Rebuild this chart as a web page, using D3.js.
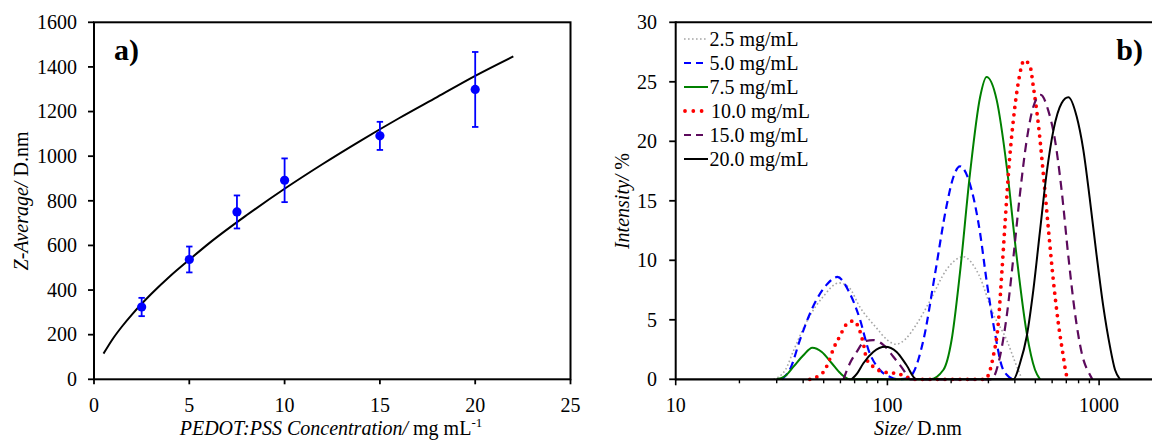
<!DOCTYPE html>
<html><head><meta charset="utf-8">
<script src="https://cdn.jsdelivr.net/npm/d3@7"></script>
<style>
body{margin:0;background:#fff;}
svg text{font-family:"Liberation Serif","Times New Roman",serif;fill:#000;}
</style></head>
<body>
<svg id="chart" width="1152" height="441"></svg>
<script>
// ---------- Panel a) data ----------
const concentrations = [2.5, 5, 7.5, 10, 15, 20];
const zAverage = [324, 537, 750, 892, 1091, 1299];
const zError = [41, 58, 74, 98, 63, 168];
const fitX = [0.5, 1, 1.5, 2, 3, 4, 5, 6, 8, 10, 12, 14, 16, 18, 20, 22];
const fitY = [115, 183, 240, 291, 382, 463, 536, 607, 735, 854, 965, 1070, 1170, 1265, 1360, 1447];
const aXTicks = [0, 5, 10, 15, 20, 25];
const aYTicks = [0, 200, 400, 600, 800, 1000, 1200, 1400, 1600];

// ---------- Panel b) data ----------
const seriesNames = ["2.5 mg/mL", "5.0 mg/mL", "7.5 mg/mL", "10.0 mg/mL", "15.0 mg/mL", "20.0 mg/mL"];
const size25 = [29, 33, 36, 42, 50, 59, 66, 74, 89, 100, 110, 122, 137, 159, 190, 228, 270, 316, 366, 400, 430];
const int25  = [0, 0.8, 2.4, 5.0, 7.0, 8.1, 7.7, 6.1, 4.3, 3.3, 2.95, 3.4, 4.6, 6.6, 9.2, 10.3, 8.8, 5.5, 3.3, 1.5, 0.1];
const size50 = [31.7, 35, 38.6, 46.3, 52, 58, 66.5, 74.3, 81.3, 92, 103, 112, 125, 132, 148, 168, 190, 205, 220, 250, 274, 294, 322, 347, 370, 394];
const int50  = [0, 1.0, 3.3, 6.7, 8.0, 8.6, 7.2, 5.0, 2.5, 0.8, 0.2, 0, 0.1, 0.5, 3.3, 8.9, 14.5, 17.0, 17.9, 15.9, 12.3, 8.3, 3.9, 1.1, 0.3, 0];
const size75 = [30, 33, 36, 40, 44.2, 49, 54.6, 60, 66.5, 159, 184, 201, 220, 245.6, 274, 294, 328, 366, 408, 455, 498, 526];
const int75  = [0, 0.3, 1.06, 2.0, 2.66, 2.3, 1.35, 0.5, 0, 0, 0.8, 3.3, 8.9, 17.3, 23.7, 25.4, 23.5, 17.9, 10.3, 3.9, 0.8, 0];
const size100 = [43, 47.2, 50.7, 52.6, 56, 58.7, 61.5, 64.2, 69, 72.9, 77, 79.8, 85.7, 92.2, 101, 110.6, 123, 132, 290, 300, 316, 334, 347, 359.5, 373, 393.6, 415, 443, 472, 489, 516, 545, 575, 608, 642, 678, 698, 712];
const int100  = [0, 0.28, 0.8, 1.4, 2.7, 3.4, 4.1, 4.65, 4.9, 4.4, 3.0, 1.7, 1.06, 0.7, 0.55, 0.5, 0.2, 0, 0, 0.36, 1.9, 4.7, 8.9, 13.1, 17.3, 21.8, 24.9, 26.8, 26.3, 24.6, 21.5, 17.3, 12.8, 8.3, 4.7, 1.9, 0.5, 0];
const size150 = [62, 66.5, 71.6, 78.4, 85.7, 95.6, 106.7, 119, 128, 310, 340, 366, 394, 423, 455, 489, 530, 575, 619, 665, 716, 770, 828, 906, 930];
const int150  = [0, 1.35, 2.3, 3.2, 3.3, 2.9, 1.9, 0.8, 0, 0, 1.9, 5.3, 10.3, 15.6, 20.1, 22.9, 23.9, 22.6, 20.1, 15.9, 10.3, 5.5, 2.2, 0.36, 0];
const size200 = [67.8, 72, 77, 85.7, 97.5, 110.6, 123, 137, 394, 423, 455, 489, 526, 565, 608, 665, 716, 783, 842, 906, 975, 1047, 1127, 1189, 1255];
const int200  = [0, 0.5, 1.35, 2.3, 2.74, 2.3, 1.2, 0, 0, 1.35, 3.6, 7.5, 12.5, 17.3, 20.9, 23.2, 23.7, 22.1, 19.3, 15.0, 10.3, 6.1, 2.7, 0.8, 0];
const bYTicks = [0, 5, 10, 15, 20, 25, 30];
const bXMajor = [10, 100, 1000];
const bXMinor = [20, 30, 40, 50, 60, 70, 80, 90, 200, 300, 400, 500, 600, 700, 800, 900];

// ---------- drawing ----------
const svg = d3.select("#chart");
const FS = 20;

// ===== Panel a =====
const ax = d3.scaleLinear().domain([0, 25]).range([94, 570.5]);
const ay = d3.scaleLinear().domain([0, 1600]).range([379.3, 22.3]);
const ga = svg.append("g");

ga.append("rect").attr("x", ax(0)).attr("y", ay(1600)).attr("width", ax(25) - ax(0)).attr("height", ay(0) - ay(1600))
  .attr("fill", "none").attr("stroke", "#000").attr("stroke-width", 2);

ga.selectAll(".axt").data(aXTicks).join("line")
  .attr("x1", d => ax(d)).attr("x2", d => ax(d)).attr("y1", ay(0)).attr("y2", ay(0) + 5)
  .attr("stroke", "#000").attr("stroke-width", 1.8);
ga.selectAll(".axl").data(aXTicks).join("text")
  .attr("x", d => ax(d)).attr("y", 412).attr("text-anchor", "middle").attr("font-size", FS).text(d => d);
ga.selectAll(".ayt").data(aYTicks).join("line")
  .attr("x1", ax(0) - 6).attr("x2", ax(0)).attr("y1", d => ay(d)).attr("y2", d => ay(d))
  .attr("stroke", "#000").attr("stroke-width", 1.8);
ga.selectAll(".ayl").data(aYTicks).join("text")
  .attr("x", 77).attr("y", d => ay(d) + 6.8).attr("text-anchor", "end").attr("font-size", FS).text(d => d);

const fitData = fitX.map((x, i) => [x, fitY[i]]);
ga.append("path").datum(fitData)
  .attr("d", d3.line().x(d => ax(d[0])).y(d => ay(d[1])).curve(d3.curveMonotoneX))
  .attr("fill", "none").attr("stroke", "#000").attr("stroke-width", 2);

const pts = concentrations.map((c, i) => ({c, z: zAverage[i], e: zError[i]}));
const eb = ga.selectAll(".eb").data(pts).join("g");
eb.append("line").attr("x1", d => ax(d.c)).attr("x2", d => ax(d.c))
  .attr("y1", d => ay(d.z - d.e)).attr("y2", d => ay(d.z + d.e)).attr("stroke", "#0000ff").attr("stroke-width", 1.8);
eb.append("line").attr("x1", d => ax(d.c) - 3.2).attr("x2", d => ax(d.c) + 3.2)
  .attr("y1", d => ay(d.z + d.e)).attr("y2", d => ay(d.z + d.e)).attr("stroke", "#0000ff").attr("stroke-width", 1.8);
eb.append("line").attr("x1", d => ax(d.c) - 3.2).attr("x2", d => ax(d.c) + 3.2)
  .attr("y1", d => ay(d.z - d.e)).attr("y2", d => ay(d.z - d.e)).attr("stroke", "#0000ff").attr("stroke-width", 1.8);
eb.append("circle").attr("cx", d => ax(d.c)).attr("cy", d => ay(d.z)).attr("r", 4.6).attr("fill", "#0000ff");

ga.append("text").attr("x", 114).attr("y", 60).attr("font-size", 30).attr("font-weight", "bold").text("a)");
const atx = ga.append("text").attr("x", 331).attr("y", 435).attr("text-anchor", "middle").attr("font-size", FS);
atx.append("tspan").attr("font-style", "italic").text("PEDOT:PSS Concentration/");
atx.append("tspan").text(" mg mL");
atx.append("tspan").attr("font-size", 13).attr("dy", -8).text("-1");
const aty = ga.append("text").attr("transform", "translate(28,201) rotate(-90)").attr("text-anchor", "middle").attr("font-size", FS);
aty.append("tspan").attr("font-style", "italic").text("Z-Average/");
aty.append("tspan").text(" D.nm");

// ===== Panel b =====
const bx = d3.scaleLog().domain([10, 10000]).range([675.7, 675.7 + 3 * 211.7]);
const by = d3.scaleLinear().domain([0, 30]).range([379.3, 22.3]);
const gb = svg.append("g");

const styles = [
  {color: "#a6a6a6", width: 1.6, dash: "1.6 2.4", legDash: "1.6 2.4", cap: "butt"},
  {color: "#0000ff", width: 2.2, dash: "8 5", legDash: "7 5", cap: "butt"},
  {color: "#008000", width: 2, dash: null, legDash: null, cap: "butt"},
  {color: "#ff0000", width: 3.8, dash: "0 7.5", legDash: "0 8.3", cap: "round"},
  {color: "#5c0a5c", width: 2.2, dash: "9 6", legDash: "7 5", cap: "butt"},
  {color: "#000000", width: 2, dash: null, legDash: null, cap: "butt"}
];
const sizes = [size25, size50, size75, size100, size150, size200];
const ints = [int25, int50, int75, int100, int150, int200];
const series = seriesNames.map((n, i) => ({name: n, style: styles[i], pts: sizes[i].map((s, j) => [s, ints[i][j]])}));

const bline = d3.line().x(d => bx(d[0])).y(d => by(d[1])).curve(d3.curveMonotoneX);
gb.selectAll(".ser").data(series).join("path")
  .attr("d", d => bline(d.pts)).attr("fill", "none")
  .attr("stroke", d => d.style.color).attr("stroke-width", d => d.style.width)
  .attr("stroke-dasharray", d => d.style.dash).attr("stroke-linecap", d => d.style.cap);

gb.append("line").attr("x1", bx(10)).attr("x2", 1152).attr("y1", by(0)).attr("y2", by(0)).attr("stroke", "#000").attr("stroke-width", 2.2);
gb.append("line").attr("x1", bx(10)).attr("x2", 1152).attr("y1", by(30)).attr("y2", by(30)).attr("stroke", "#000").attr("stroke-width", 2);
gb.append("line").attr("x1", bx(10)).attr("x2", bx(10)).attr("y1", by(30) - 1).attr("y2", by(0) + 1).attr("stroke", "#000").attr("stroke-width", 2);

gb.selectAll(".bxt").data(bXMajor).join("line")
  .attr("x1", d => bx(d)).attr("x2", d => bx(d)).attr("y1", by(0)).attr("y2", by(0) + 6).attr("stroke", "#000").attr("stroke-width", 1.6);
gb.selectAll(".bxm").data(bXMinor).join("line")
  .attr("x1", d => bx(d)).attr("x2", d => bx(d)).attr("y1", by(0)).attr("y2", by(0) + 4).attr("stroke", "#000").attr("stroke-width", 1.4);
gb.selectAll(".bxl").data(bXMajor).join("text")
  .attr("x", d => bx(d)).attr("y", 412).attr("text-anchor", "middle").attr("font-size", FS).text(d => d);
gb.selectAll(".byt").data(bYTicks).join("line")
  .attr("x1", bx(10) - 6.5).attr("x2", bx(10)).attr("y1", d => by(d)).attr("y2", d => by(d)).attr("stroke", "#000").attr("stroke-width", 1.8);
gb.selectAll(".byl").data(bYTicks).join("text")
  .attr("x", 657).attr("y", d => by(d) + 6.8).attr("text-anchor", "end").attr("font-size", FS).text(d => d);

const leg = gb.selectAll(".leg").data(series).join("g")
  .attr("transform", (d, i) => `translate(0,${39 + i * 24})`);
leg.append("line").attr("x1", (d, i) => i === 3 ? 685 : 684).attr("x2", (d, i) => i === 3 ? 703 : 708).attr("y1", 0).attr("y2", 0)
  .attr("stroke", d => d.style.color).attr("stroke-width", d => d.style.width)
  .attr("stroke-dasharray", d => d.style.legDash).attr("stroke-linecap", d => d.style.cap);
leg.append("text").attr("x", (d, i) => i === 3 ? 711 : 709.5).attr("y", 6.5).attr("font-size", FS).text(d => d.name);

gb.append("text").attr("x", 1143).attr("y", 60).attr("text-anchor", "end").attr("font-size", 30).attr("font-weight", "bold").text("b)");
const btx = gb.append("text").attr("x", 918).attr("y", 435).attr("text-anchor", "middle").attr("font-size", FS);
btx.append("tspan").attr("font-style", "italic").text("Size/");
btx.append("tspan").text(" D.nm");
const bty = gb.append("text").attr("transform", "translate(629,201) rotate(-90)").attr("text-anchor", "middle").attr("font-size", FS);
bty.append("tspan").attr("font-style", "italic").text("Intensity/");
bty.append("tspan").text(" %");
</script>
</body></html>
